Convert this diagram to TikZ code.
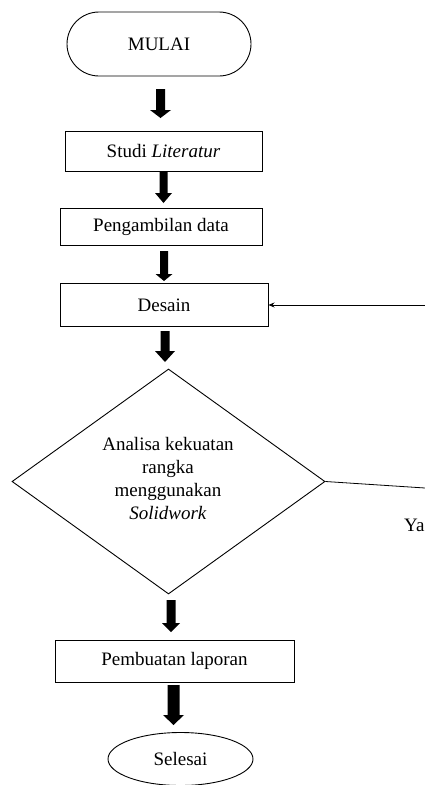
\documentclass[tikz,border=0pt]{standalone}
\usepackage{fontspec}
\setmainfont{Liberation Serif}
\usetikzlibrary{shapes.geometric,arrows.meta}
\newcommand\blkarrow[6]{%
  \fill[black] (#1-#5,#2) -- (#1+#5,#2) -- (#1+#5,#3) -- (#1+#6,#3) -- (#1,#4) -- (#1-#6,#3) -- (#1-#5,#3) -- cycle;}
\begin{document}
\begin{tikzpicture}[x=1pt,y=-1pt,
  every node/.style={font=\fontsize{19}{23}\selectfont},
  procbox/.style={draw, line width=1pt, rectangle, inner sep=0pt},
  termbox/.style={draw, line width=0.9pt, rectangle, rounded corners=32pt, inner sep=0pt},
  endbox/.style={draw, line width=0.9pt, ellipse, inner sep=0pt},
  decbox/.style={draw, line width=0.9pt, diamond, inner sep=0pt},
  thinline/.style={line width=0.8pt}]
\useasboundingbox (0,0) rectangle (425,785);
\node[termbox, minimum width=184pt, minimum height=64pt] (mulai) at (159,44) {MULAI};
\node[procbox, minimum width=197pt, minimum height=40pt] (studi) at (163.5,151) {Studi \textit{Literatur}};
\node[procbox, minimum width=202pt, minimum height=37pt] (data) at (161,226.5) {Pengambilan data};
\node[procbox, minimum width=208pt, minimum height=43pt] (desain) at (164,305) {Desain};
\node[decbox, minimum width=313pt, minimum height=225pt] (dec) at (168.5,481.5) {};
\node[align=center] (dtext) at (168,478) {Analisa kekuatan\\rangka\\menggunakan\\\textit{Solidwork}};
\node[procbox, minimum width=239pt, minimum height=42pt] (lapor) at (174.5,661) {Pembuatan laporan};
\node[endbox, minimum width=145pt, minimum height=53pt] (selesai) at (180.5,759) {Selesai};
\node[anchor=west, inner sep=0pt] (ya) at (404,525) {Ya};
% block arrows
\blkarrow{160.5}{89}{110}{118}{4.5}{10.5}
\blkarrow{163.5}{171}{193}{203}{4}{8.5}
\blkarrow{164}{251}{274}{281}{4}{8.5}
\blkarrow{165}{331}{351}{362}{4.5}{10}
\blkarrow{171}{600}{623}{632}{4.5}{9}
\blkarrow{173.5}{685}{715}{725}{6}{10.5}
% feedback lines
\coordinate (fbtop) at (425,305);
\coordinate (fbbot) at (425,488);
\draw[thinline, -{Stealth[length=6pt,width=5pt]}] (fbtop) -- (desain.east);
\draw[thinline] (dec.east) -- (fbbot);
\end{tikzpicture}
\end{document}
